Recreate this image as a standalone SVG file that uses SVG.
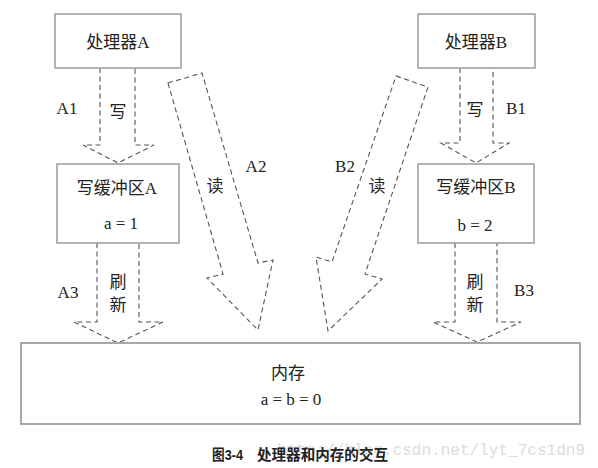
<svg xmlns="http://www.w3.org/2000/svg" width="598" height="468" viewBox="0 0 598 468">
<style>
.box{fill:#fff;stroke:#9a9a9a;stroke-width:1.5}
.arr{fill:none;stroke:#555;stroke-width:1.1;stroke-dasharray:5 3.5;stroke-linejoin:miter}
.t{font-family:"Liberation Serif","Noto Sans CJK SC",serif;font-size:17px;fill:#222;text-anchor:middle;dominant-baseline:central}
.cap{font-family:"Liberation Sans","Noto Sans CJK SC",sans-serif;font-size:14.5px;font-weight:bold;fill:#222}
.wm{font-family:"Liberation Mono",monospace;font-size:16px;fill:#dcdcdc}
</style>
<rect width="598" height="468" fill="#fff"/>
<text class="wm" x="277" y="455" textLength="308" lengthAdjust="spacingAndGlyphs">http://blog.csdn.net/lyt_7cs1dn9</text>
<g id="connectors">
<path class="arr" d="M100,68 V145 H83 L118,163 L154,145 H135 V68"/>
<path class="arr" d="M460,68 V143 H441 L476,163 L509,143 H493 V68"/>
<path class="arr" d="M97,243 V322 H74 L118,343 L163,322 H139 V243"/>
<path class="arr" d="M455,243 V322 H433 L477,342 L521,322 H497 V243"/>
<path class="arr" d="M168,83 L202,73 L258,263 L273,260 L258,330 L207,278 L223,274 Z"/>
<path class="arr" d="M396,76 L428,87 L365,274 L382,279 L328,331 L316,257 L332,262 Z"/>
<text class="t" x="67" y="108">A1</text>
<text class="t" x="118" y="112">写</text>
<text class="t" x="475" y="110">写</text>
<text class="t" x="516" y="108">B1</text>
<text class="t" x="256" y="166">A2</text>
<text class="t" x="215" y="186">读</text>
<text class="t" x="345" y="166">B2</text>
<text class="t" x="377" y="186">读</text>
<text class="t" x="68" y="292">A3</text>
<text class="t" x="118" y="282">刷</text>
<text class="t" x="118" y="305">新</text>
<text class="t" x="475" y="282">刷</text>
<text class="t" x="475" y="305">新</text>
<text class="t" x="524" y="290">B3</text>
</g>
<g id="procA">
<rect class="box" x="55" y="14" width="126" height="54"/>
<text class="t" x="118" y="42">处理器A</text>
</g>
<g id="procB">
<rect class="box" x="418" y="14" width="117" height="54"/>
<text class="t" x="476" y="42">处理器B</text>
</g>
<g id="bufA">
<rect class="box" x="57" y="164" width="122" height="79"/>
<text class="t" x="117" y="188">写缓冲区A</text>
<text class="t" x="121" y="223">a = 1</text>
</g>
<g id="bufB">
<rect class="box" x="418" y="164" width="116" height="79"/>
<text class="t" x="476" y="187">写缓冲区B</text>
<text class="t" x="475" y="225">b = 2</text>
</g>
<g id="memory">
<rect class="box" x="21" y="343" width="559" height="81" style="stroke:#a8a8a8;stroke-width:2"/>
<text class="t" x="288" y="373">内存</text>
<text class="t" x="291" y="399">a = b = 0</text>
</g>
<text class="cap" x="212" y="460"><tspan textLength="31" lengthAdjust="spacingAndGlyphs">图3-4</tspan><tspan x="257" textLength="131" lengthAdjust="spacingAndGlyphs">处理器和内存的交互</tspan></text>
</svg>
